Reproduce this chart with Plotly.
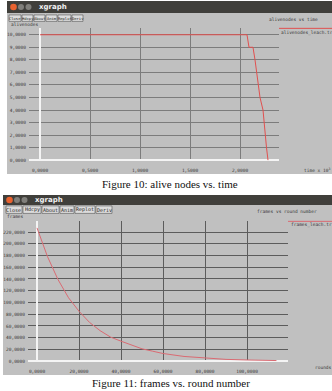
import plotly.graph_objects as go

W, H = 332, 391

# ---------------- data ----------------
time_k = [0.0, 2.07, 2.09, 2.13, 2.15, 2.165, 2.18, 2.20, 2.23, 2.24, 2.25, 2.265, 2.28]
alive = [10, 10, 9, 9, 8, 7, 6, 5, 4, 3, 2, 1, 0]
alive_yticks = [0, 1, 2, 3, 4, 5, 6, 7, 8, 9, 10]
alive_ylabels = ["0,0000", "1,0000", "2,0000", "3,0000", "4,0000", "5,0000",
                 "6,0000", "7,0000", "8,0000", "9,0000", "10,0000"]
time_xticks = [0, 0.5, 1.0, 1.5, 2.0]
time_xlabels = ["0,0000", "0,5000", "1,0000", "1,5000", "2,0000"]

rounds = [0, 5, 10, 15, 20, 25, 30, 35, 40, 45, 50, 55, 60, 70, 80, 90, 100, 114]
frames = [227, 178, 139, 108, 85, 66, 52, 41, 34, 27, 21, 17, 13, 8, 5, 3, 2, 1]
frames_yticks = [0, 20, 40, 60, 80, 100, 120, 140, 160, 180, 200, 220]
frames_ylabels = ["0,0000", "20,0000", "40,0000", "60,0000", "80,0000", "100,0000",
                  "120,0000", "140,0000", "160,0000", "180,0000", "200,0000", "220,0000"]
rounds_xticks = [0, 20, 40, 60, 80, 100]
rounds_xlabels = ["0,0000", "20,0000", "40,0000", "60,0000", "80,0000", "100,0000"]

buttons = ["Close", "Hdcpy", "About", "Anim", "Replot", "Deriv"]

# ---------------- styles ----------------
RED = "#e0504f"
RED2 = "#d96a72"
GRAY = "#c0c0c0"
GRID1 = "#7c7c7c"
GRID2 = "#5c5c5c"
MONO = "DejaVu Sans Mono"
TXT = "#3a3a3a"
FS = 4.5


def px(x):
    return x / W


def py(y):
    return 1 - y / H


shapes = []
annotations = []


def rect(x0, y0, x1, y1, fill, line=None, lw=0, layer="below"):
    shapes.append(dict(type="rect", xref="paper", yref="paper",
                       x0=px(x0), x1=px(x1), y0=py(y1), y1=py(y0),
                       fillcolor=fill, line=dict(color=line or fill, width=lw),
                       layer=layer))


def circle(cx, cy, r, fill):
    shapes.append(dict(type="circle", xref="paper", yref="paper",
                       x0=px(cx - r), x1=px(cx + r), y0=py(cy + r), y1=py(cy - r),
                       fillcolor=fill, line=dict(color=fill, width=0), layer="above"))


def hline(x0, x1, y, color, w=1):
    shapes.append(dict(type="line", xref="paper", yref="paper",
                       x0=px(x0), x1=px(x1), y0=py(y), y1=py(y),
                       line=dict(color=color, width=w), layer="above"))


def text(x, y, s, size=FS, color=TXT, family=MONO, xanchor="left", bold=False):
    if bold:
        s = "<b>" + s + "</b>"
    annotations.append(dict(xref="paper", yref="paper", x=px(x), y=py(y), text=s,
                            showarrow=False, xanchor=xanchor, yanchor="middle",
                            font=dict(size=size, color=color, family=family)))


def window(x0, x1, ytop, ybar, ybottom, bx, by0, by1, bsize, title, legend,
           title_x, title_y, leg_x, leg_y, ylab, ylab_y, xlab, xlab_x, xlab_y):
    rect(x0, ybar, x1, ybottom, GRAY)
    rect(x0, ytop, x1, ybar, "#403f3b")
    cy = (ytop + ybar) / 2
    circle(x0 + 6.5, cy, 3.3, "#e9622f")
    circle(x0 + 14, cy, 3.0, "#807f7b")
    circle(x0 + 21.5, cy, 3.0, "#807f7b")
    text(x0 + 30, cy, "xgraph", size=7, color="#f2f2f2", family="DejaVu Sans", bold=True)
    for (bx0, bx1), lab in zip(bx, buttons):
        rect(bx0, by0, bx1, by1, "#dcdcdc", "#555555", 0.6, layer="above")
        text((bx0 + bx1) / 2, (by0 + by1) / 2, lab, size=bsize, color="#222", xanchor="center")
    text(x0 + 2, ylab_y, ylab)
    text(title_x, title_y, title)
    text(leg_x, leg_y, legend)
    text(xlab_x, xlab_y, xlab)


# top window
window(7, 332, 1, 13, 175,
       [(9, 21), (22, 33), (34, 45), (46, 57), (58, 71), (72, 83)], 15, 21.5, 3.8,
       "alivenodes vs time", "alivenodes_leach.tr", 267, 20, 279, 33,
       "alivenodes", 24.5, "time x 10<sup>3</sup>", 302, 171)
hline(279, 332, 28.5, RED, 1)

# bottom window
window(3, 332, 196, 206, 377,
       [(6, 22), (23, 41), (42, 59), (60, 74), (75, 95), (96, 112)], 207, 214.5, 5,
       "frames vs round number", "frames_leach.tr", 255, 213, 289, 226,
       "frames", 217.5, "rounds", 313, 369)
hline(288, 332, 222.5, RED2, 1)

# captions
text(170, 185, "Figure 10: alive nodes vs. time", size=11, color="#111",
     family="Liberation Serif", xanchor="center")
text(171, 385, "Figure 11: frames vs. round number", size=11, color="#111",
     family="Liberation Serif", xanchor="center")

fig = go.Figure()
fig.add_trace(go.Scatter(x=time_k, y=alive, mode="lines", line=dict(color=RED, width=1),
                         xaxis="x", yaxis="y", showlegend=False, hoverinfo="skip"))
fig.add_trace(go.Scatter(x=rounds, y=frames, mode="lines", line=dict(color=RED2, width=1),
                         xaxis="x2", yaxis="y2", showlegend=False, hoverinfo="skip"))


def ax(grid, **kw):
    d = dict(showgrid=True, gridcolor=grid, gridwidth=0.8, zeroline=True,
             zerolinecolor="#f4f4f4", zerolinewidth=1.5, showline=False, ticks="",
             tickfont=dict(family=MONO, size=FS, color=TXT), tickmode="array",
             fixedrange=True)
    d.update(kw)
    return d


fig.update_layout(
    width=W, height=H, margin=dict(l=0, r=0, t=0, b=0),
    paper_bgcolor="white", plot_bgcolor="rgba(0,0,0,0)",
    xaxis=ax(GRID1, domain=[px(29), px(279)], range=[-0.11, 2.39], anchor="y",
             tickvals=time_xticks, ticktext=time_xlabels, ticklabelstandoff=6),
    yaxis=ax(GRID1, domain=[py(161.5), py(28)], range=[-0.04, 10.55], anchor="x",
             tickvals=alive_yticks, ticktext=alive_ylabels, ticklabelstandoff=2),
    xaxis2=ax(GRID2, domain=[px(28), px(288)], range=[-4.29, 119.5], anchor="y2",
              tickvals=rounds_xticks, ticktext=rounds_xlabels, ticklabelstandoff=6),
    yaxis2=ax(GRID2, domain=[py(363.5), py(222)], range=[-0.85, 239], anchor="x2",
              tickvals=frames_yticks, ticktext=frames_ylabels, ticklabelstandoff=2),
    shapes=shapes, annotations=annotations,
)

fig.write_html("out.html")
